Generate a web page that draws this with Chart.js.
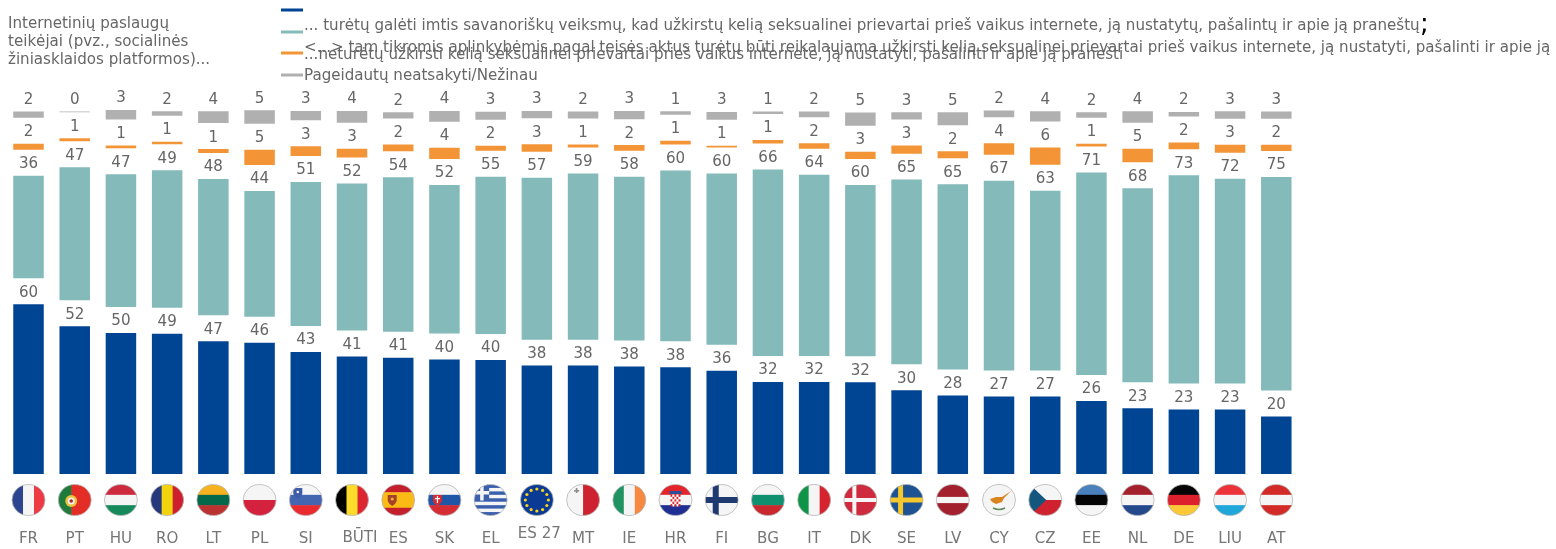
<!DOCTYPE html>
<html>
<head>
<meta charset="utf-8">
<title>Chart</title>
<script src="https://cdn.jsdelivr.net/npm/chart.js@4"></script>
<style>
  body { margin: 0; background: #fff; }
  canvas { display: block; }
</style>
</head>
<body>
<canvas id="chart" width="1556" height="549"></canvas>
<script>
const categories = ["FR","PT","HU","RO","LT","PL","SI","BŪTI","ES","SK","EL","ES 27","MT","IE","HR","FI","BG","IT","DK","SE","LV","CY","CZ","EE","NL","DE","LIU","AT"];
// values, labels are these rounded
const mustAct = [59.8,52.1,49.7,49.4,46.8,46.3,43.0,41.4,41.0,40.4,40.2,38.2,38.2,37.9,37.6,36.4,32.4,32.4,32.3,29.5,27.7,27.3,27.3,25.7,23.2,22.7,22.7,20.3];
const voluntary = [36.2,46.9,46.8,48.5,48.0,44.3,50.8,51.8,54.4,52.3,55.4,57.1,58.6,57.7,60.2,60.4,65.8,63.9,60.4,65.1,65.3,66.9,63.4,71.4,68.4,73.4,72.2,75.2];
const notAct = [2.1,1.06,1.0,0.9,1.4,5.4,3.4,3.1,2.4,4.0,1.8,2.6,1.06,2.0,1.3,0.6,1.2,2.0,2.6,2.9,2.4,4.1,6.1,0.95,4.7,2.4,2.8,2.2];
const dontKnow = [2.2,0.2,3.3,1.6,4.2,4.7,3.3,4.2,2.2,3.8,2.8,2.6,2.4,2.9,1.3,2.7,0.9,2.0,4.6,2.5,4.6,2.3,3.6,2.0,4.1,1.6,2.7,2.6];
const gapUnits = 9.16;

const titleLines = ["Internetinių paslaugų","teikėjai (pvz., socialinės","žiniasklaidos platformos)..."];
const legendRows = [
  {text: "", color: "#004494", lineY: 10},
  {text: "... turėtų galėti imtis savanoriškų veiksmų, kad užkirstų kelią seksualinei prievartai prieš vaikus internete, ją nustatytų, pašalintų ir apie ją praneštų", color: "#85baba", lineY: 32, y: 26.5},
  {text: "<...> tam tikromis aplinkybėmis pagal teisės aktus turėtų būti reikalaujama užkirsti kelią seksualinei prievartai prieš vaikus internete, ją nustatyti, pašalinti ir apie ją", y: 48.5},
  {text: "...neturėtų užkirsti kelią seksualinei prievartai prieš vaikus internete, ją nustatyti, pašalinti ir apie ją pranešti", color: "#f39537", lineY: 53, y: 55.5},
  {text: "Pageidautų neatsakyti/Nežinau", color: "#b0b0b0", lineY: 75, y: 76.5}
];

const FONT = '15.08px "DejaVu Sans"';
const TEXT = "#666666";
const R = 16.5, RY = 15.5;

function bar(label, data, color) {
  return {label, data, backgroundColor: color, showValue: true, barPercentage: 0.66, categoryPercentage: 1};
}
function gap() {
  return {label: "", data: categories.map(() => gapUnits), backgroundColor: "transparent", barPercentage: 0.66, categoryPercentage: 1};
}

// flag painters, local coords centred on the flag
function stripes(ctx, dir, colors, weights) {
  const w = weights || colors.map(() => 1);
  const total = w.reduce((a, b) => a + b, 0);
  let pos = dir === "v" ? -R : -RY;
  const span = dir === "v" ? 2 * R : 2 * RY;
  colors.forEach((c, i) => {
    const size = span * w[i] / total;
    ctx.fillStyle = c;
    if (dir === "v") ctx.fillRect(pos, -R, size + 0.5, 2 * R);
    else ctx.fillRect(-R, pos, 2 * R, size + 0.5);
    pos += size;
  });
}
function cross(ctx, bg, fg, t) {
  ctx.fillStyle = bg; ctx.fillRect(-R, -R, 2 * R, 2 * R);
  ctx.fillStyle = fg;
  ctx.fillRect(-6 - t / 2, -R, t, 2 * R);
  ctx.fillRect(-R, -t / 2, 2 * R, t);
}
function dot(ctx, x, y, r, c) {
  ctx.fillStyle = c; ctx.beginPath(); ctx.arc(x, y, r, 0, 7); ctx.fill();
}
function shield(ctx, x, y, c) {
  ctx.fillStyle = c;
  ctx.beginPath();
  ctx.moveTo(x - 4.5, y - 5); ctx.lineTo(x + 4.5, y - 5); ctx.lineTo(x + 4.5, y + 1);
  ctx.quadraticCurveTo(x + 3, y + 4.5, x, y + 6);
  ctx.quadraticCurveTo(x - 3, y + 4.5, x - 4.5, y + 1);
  ctx.closePath(); ctx.fill();
}
const flags = {
  "FR": c => stripes(c, "v", ["#2b4590","#f5f5f5","#ee3a43"]),
  "PT": c => { stripes(c, "v", ["#1f7a3c","#e52d27"], [2,3]); dot(c, -3.5, 1, 6, "#e8c33a"); dot(c, -3.5, 1, 3.5, "#f2f2f2"); dot(c, -3.5, 1, 1.8, "#b3262a"); },
  "HU": c => stripes(c, "h", ["#cd2a3e","#f5f5f5","#178a5c"]),
  "RO": c => stripes(c, "v", ["#26377c","#f2d40e","#cd1f2d"]),
  "LT": c => stripes(c, "h", ["#f6b31f","#04694a","#bb3230"]),
  "PL": c => stripes(c, "h", ["#f5f5f5","#d4213d"]),
  "SI": c => { stripes(c, "h", ["#f5f5f5","#4466b0","#ea2a2e"]); shield(c, -8, -7, "#3f5ca8"); dot(c, -8, -8, 1.2, "#fff"); },
  "BŪTI": c => stripes(c, "v", ["#000000","#fcdc2a","#dd2730"]),
  "ES": c => { stripes(c, "h", ["#c4202c","#fbbb16","#c4202c"], [1,2,1]); shield(c, -6, 0, "#a5402a"); dot(c, -6, -1, 1.6, "#e8b23a"); },
  "SK": c => { stripes(c, "h", ["#f5f5f5","#1f56a5","#d62c33"]); shield(c, -7, 0, "#d62c33"); c.fillStyle = "#fff"; c.fillRect(-7.6, -4, 1.2, 7); c.fillRect(-9.5, -2, 5, 1.2); },
  "EL": c => {
    stripes(c, "h", ["#3a60ad","#f5f5f5","#3a60ad","#f5f5f5","#3a60ad","#f5f5f5","#3a60ad","#f5f5f5","#3a60ad"]);
    c.fillStyle = "#3a60ad"; c.fillRect(-R, -R, 15, 17);
    c.fillStyle = "#f5f5f5"; c.fillRect(-R, -9, 15, 3.5); c.fillRect(-10.5, -R, 3.5, 17);
  },
  "ES 27": c => {
    c.fillStyle = "#0b3a94"; c.fillRect(-R, -R, 2 * R, 2 * R);
    for (let i = 0; i < 12; i++) {
      const a = i * Math.PI / 6;
      dot(c, 11.5 * Math.cos(a), 11 * Math.sin(a), 1.6, "#f7d31c");
    }
  },
  "MT": c => { stripes(c, "v", ["#f5f5f5","#cf2230"]); c.fillStyle = "#8f8a85"; c.fillRect(-9, -10, 5, 1.6); c.fillRect(-7.3, -12, 1.6, 5); },
  "IE": c => stripes(c, "v", ["#1f9362","#f5f5f5","#f6883f"]),
  "HR": c => {
    stripes(c, "h", ["#e3242b","#f5f5f5","#1f2f94"]);
    c.fillStyle = "#2d4f9e"; c.fillRect(-6, -9, 12, 3);
    for (let i = 0; i < 5; i++) for (let j = 0; j < 5; j++) {
      c.fillStyle = (i + j) % 2 ? "#fff" : "#d8232a";
      c.fillRect(-5 + i * 2, -5.5 + j * 2.4, 2, 2.4);
    }
  },
  "FI": c => cross(c, "#f5f5f5", "#1f3a70", 6),
  "BG": c => stripes(c, "h", ["#f5f5f5","#0f9170","#c9292e"]),
  "IT": c => stripes(c, "v", ["#0f9347","#f5f5f5","#d5232f"]),
  "DK": c => cross(c, "#cf2a3d", "#f5f5f5", 4),
  "SE": c => cross(c, "#1d5393", "#f5c82e", 5),
  "LV": c => stripes(c, "h", ["#a3202e","#f5f5f5","#a3202e"], [2,1,2]),
  "CY": c => {
    c.fillStyle = "#f5f5f5"; c.fillRect(-R, -R, 2 * R, 2 * R);
    c.fillStyle = "#d8841f"; c.beginPath();
    c.moveTo(-9, -1); c.lineTo(-3, -3); c.lineTo(3, -3); c.lineTo(12, -9); c.lineTo(5, -2); c.lineTo(3, 2); c.lineTo(-3, 4); c.lineTo(-7, 2);
    c.closePath(); c.fill();
    c.strokeStyle = "#5f8a5a"; c.lineWidth = 1.4; c.beginPath(); c.moveTo(-6, 8); c.quadraticCurveTo(0, 11, 6, 8); c.stroke();
  },
  "CZ": c => {
    stripes(c, "h", ["#f5f5f5","#d0212f"]);
    c.fillStyle = "#13577f"; c.beginPath(); c.moveTo(-R, -R); c.lineTo(1, 0); c.lineTo(-R, R); c.closePath(); c.fill();
  },
  "EE": c => stripes(c, "h", ["#4a80bb","#050505","#f5f5f5"]),
  "NL": c => stripes(c, "h", ["#a5202d","#f5f5f5","#24488c"]),
  "DE": c => stripes(c, "h", ["#050505","#dc202e","#fdc836"]),
  "LIU": c => stripes(c, "h", ["#ec3339","#f5f5f5","#1fa7da"]),
  "AT": c => stripes(c, "h", ["#d12a27","#f5f5f5","#d12a27"])
};

// these two sit off their tick in the original
const offTick = {"BŪTI": {dx: 8, dy: 0}, "ES 27": {dx: 2.5, dy: -4}};

const decorations = {
  id: "decorations",
  afterDatasetsDraw(chart) {
    const ctx = chart.ctx;
    const x = chart.scales.x;
    ctx.save();
    ctx.font = FONT;
    ctx.fillStyle = TEXT;
    ctx.textAlign = "center";
    ctx.textBaseline = "middle";

    // value labels, centred in the white gap above each piece
    chart.data.datasets.forEach((ds, i) => {
      if (!ds.showValue) return;
      chart.getDatasetMeta(i).data.forEach((el, j) => {
        ctx.fillText(String(Math.round(ds.data[j])), el.x, el.y - 11.5);
      });
    });

    // flags
    const flagY = chart.chartArea.bottom + 26;
    categories.forEach((name, i) => {
      const cx = x.getPixelForValue(i);
      ctx.save();
      ctx.translate(cx, flagY);
      ctx.beginPath();
      ctx.ellipse(0, 0, R, RY, 0, 0, 7);
      ctx.clip();
      flags[name](ctx);
      ctx.restore();
      ctx.strokeStyle = "#b5b5b5";
      ctx.lineWidth = 0.8;
      ctx.beginPath();
      ctx.ellipse(cx, flagY, R, RY, 0, 0, 7);
      ctx.stroke();
    });

    // off-tick axis labels
    ctx.fillStyle = "#767676";
    categories.forEach((name, i) => {
      const o = offTick[name];
      if (o) ctx.fillText(name, x.getPixelForValue(i) + o.dx, 538.5 + o.dy);
    });

    // title and legend
    ctx.textAlign = "left";
    ctx.fillStyle = TEXT;
    titleLines.forEach((line, i) => ctx.fillText(line, 8, 24.5 + i * 18));
    legendRows.forEach(row => {
      if (row.color) {
        ctx.fillStyle = row.color;
        ctx.fillRect(281, row.lineY - 1.5, 22, 3);
      }
      ctx.fillStyle = TEXT;
      if (row.text) ctx.fillText(row.text, 304, row.y);
    });
    ctx.font = '26px "DejaVu Sans"';
    ctx.fillStyle = "#000";
    ctx.fillText(";", 1420, 25);
    ctx.restore();
  }
};

new Chart(document.getElementById("chart"), {
  type: "bar",
  data: {
    labels: categories,
    datasets: [
      bar("mustAct", mustAct, "#004494"), gap(),
      bar("voluntary", voluntary, "#85baba"), gap(),
      bar("notAct", notAct, "#f39537"), gap(),
      bar("dontKnow", dontKnow, "#b0b0b0")
    ]
  },
  options: {
    responsive: false,
    animation: false,
    layout: {padding: {left: 5.4, right: 256.6, top: 76.8, bottom: 0}},
    scales: {
      x: {
        stacked: true,
        grid: {display: false},
        border: {display: false},
        // tick padding also widens the side padding, keep the plot width
        afterFit: s => { s.height = 75; s.paddingLeft = 0; s.paddingRight = 0; },
        ticks: {
          autoSkip: false,
          maxRotation: 0,
          padding: 48,
          font: {family: "DejaVu Sans", size: 15.08},
          color: c => offTick[categories[c.index]] ? "transparent" : "#767676"
        }
      },
      y: {stacked: true, display: false, min: 0, max: 140}
    },
    plugins: {legend: {display: false}, tooltip: {enabled: false}}
  },
  plugins: [decorations]
});
</script>
</body>
</html>
